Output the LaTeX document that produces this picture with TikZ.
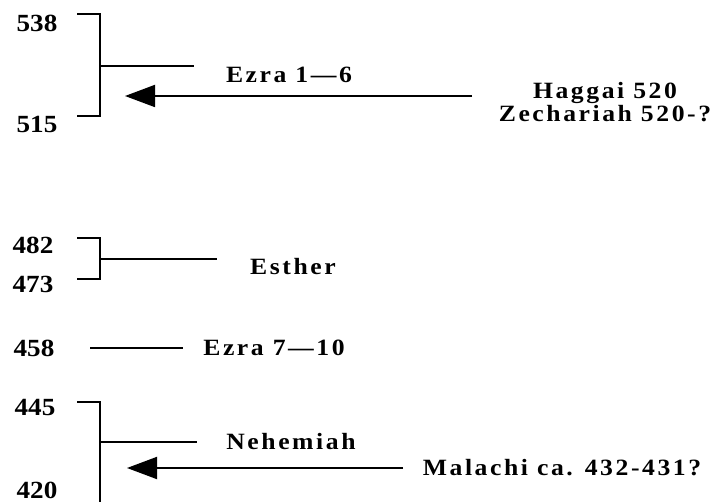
\documentclass[tikz,border=0pt]{standalone}
\usepackage{fontspec}
\setmainfont{Liberation Serif}
\newfontfamily\numfont{Liberation Serif}[FakeStretch=1.1]
\newfontfamily\lblfont{Liberation Serif}[FakeStretch=1.1,LetterSpace=11]
\usetikzlibrary{arrows.meta}

\begin{document}
\begin{tikzpicture}[x=0.75pt,y=-0.75pt,line width=1.4pt,
  yr/.style={inner sep=0pt,font=\numfont\bfseries\fontsize{18.5}{18}\selectfont},
  bk/.style={inner sep=0pt,align=center,font=\lblfont\bfseries\fontsize{17.5}{15}\selectfont}]

      \useasboundingbox (0,0) rectangle (714,502);

      \node[yr] (a) at (37,23){538};
      \node[yr] (b) at (37,124){515};
      \node[bk] (e) at (289,75){Ezra 1—6};
      \node[bk] (h) at (605,102){Haggai 520\\Zechariah 520-?};

      \coordinate (c1) at (77,14);
      \coordinate (c2) at (77,116);
      \coordinate (c3) at (100,66);
      \coordinate (c4) at (194,66);
      \coordinate (p1) at (472,96);
      \coordinate (p2) at (125,96);

      \node[yr] (f) at (33,245){482};
      \node[yr] (g) at (33,284){473};
      \node[bk] (s) at (293,267){Esther};
      \coordinate (d1) at (77,238);
      \coordinate (d2) at (77,279);
      \coordinate (d3) at (100,259);
      \coordinate (d4) at (217,259);

      \node[yr] (i) at (34,348){458};
      \node[bk] (j) at (274,348){Ezra 7—10};
      \coordinate (k1) at (90,348);
      \coordinate (k2) at (183,348);

      \node[yr] (l) at (35,408){445};
      \node[yr] (m) at (37,490){420};
      \node[bk] (n) at (291,442){Nehemiah};
      \node[bk] (o) at (562,468){Malachi ca. 432-431?};
      \coordinate (q1) at (77,402);
      \coordinate (q2) at (100,510);
      \coordinate (q3) at (100,442);
      \coordinate (q4) at (197,442);
      \coordinate (r1) at (403,468);
      \coordinate (r2) at (127,468);

      \draw (c1) -| (c3) |- (c2);
      \draw (c3) -- (c4);
      \draw[-{Triangle[length=22.5pt,width=16.5pt]}] (p1) -- (p2);

      \draw (d1) -| (d3) |- (d2);
      \draw (d3) -- (d4);

      \draw (k1) -- (k2);

      \draw (q1) -| (q2);
      \draw (q3) -- (q4);
      \draw[-{Triangle[length=22.5pt,width=16.5pt]}] (r1) -- (r2);
    \end{tikzpicture}
\end{document}
